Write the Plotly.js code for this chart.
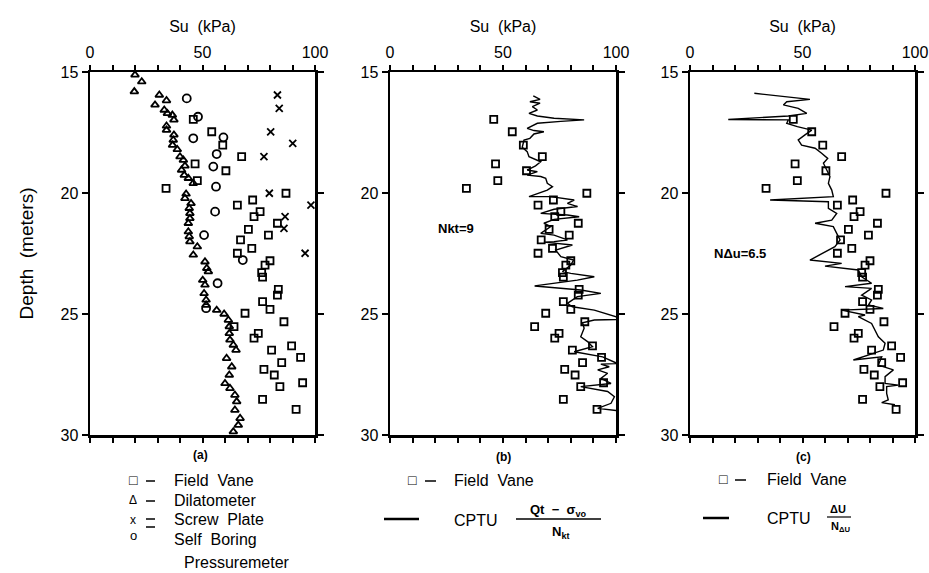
<!DOCTYPE html>
<html>
<head>
<meta charset="utf-8">
<script src="https://cdn.plot.ly/plotly-3.0.1.min.js"></script>
<style>html,body{margin:0;padding:0;background:#fff;}#chart{width:929px;height:573px;}</style>
</head>
<body>
<div id="chart"></div>
<script>
// ---- Data (Su in kPa, depth in metres) ----
const fieldVaneSu = [45.9,54.1,59.0,67.4,46.7,60.4,47.7,33.8,87.1,72.3,65.5,75.6,72.9,83.3,70.4,79.3,66.9,71.9,65.5,80.0,77.8,76.3,76.7,83.7,83.3,76.7,80.0,68.9,86.2,64.0,74.8,72.9,80.7,89.6,93.6,85.2,77.3,81.9,84.4,94.5,76.7,91.6];
const fieldVaneDepth = [16.96,17.47,18.02,18.50,18.80,19.08,19.49,19.81,20.01,20.29,20.50,20.77,20.98,21.25,21.50,21.74,21.94,22.29,22.49,22.80,22.98,23.29,23.48,23.98,24.22,24.49,24.81,24.97,25.32,25.52,25.80,26.00,26.49,26.32,26.79,27.01,27.29,27.52,28.00,27.84,28.53,28.94];

const dilatoSu = [20.0,23.0,19.7,30.8,34.0,28.9,33.0,34.4,36.6,37.3,34.0,34.0,37.3,37.0,36.7,38.8,40.0,41.5,42.2,40.7,41.9,43.7,45.9,42.7,42.2,44.9,44.1,44.4,44.4,43.7,43.7,44.1,44.4,47.7,45.9,51.1,51.9,52.6,50.1,51.1,50.7,51.6,51.6,56.3,59.6,61.5,61.9,61.9,62.2,63.7,64.9,60.7,63.0,61.9,60.0,62.2,64.4,65.2,64.4,66.7,65.9,63.7];
const dilatoDepth = [15.12,15.40,15.81,15.95,16.18,16.36,16.57,16.71,16.78,16.98,17.23,17.40,17.60,17.81,18.02,18.20,18.50,18.64,18.88,19.05,19.26,19.39,19.60,20.04,20.22,20.43,20.63,20.84,21.05,21.25,21.60,21.80,22.01,22.22,22.56,22.84,23.11,23.25,23.60,23.80,24.15,24.42,24.63,24.84,25.00,25.25,25.52,25.80,26.07,26.28,26.49,26.83,27.18,27.52,27.87,28.07,28.35,28.62,28.97,29.31,29.59,29.86];

const screwSu = [83.3,84.1,80.3,90.1,77.3,79.7,98.2,86.7,86.2,95.6];
const screwDepth = [15.95,16.50,17.47,17.95,18.50,20.01,20.50,20.98,21.46,22.49];

const sbpmSu = [43.0,48.0,45.9,59.3,56.3,54.8,56.0,55.6,50.7,67.9,56.7,51.6];
const sbpmDepth = [16.09,16.85,17.74,17.70,18.39,18.91,19.74,20.77,21.74,22.77,23.73,24.76];

const cptuNktSu = [63.4,66.4,61.9,66.4,63.0,65.2,61.5,65.2,72.6,85.9,75.6,65.2,60.7,63.7,68.1,63.7,61.9,59.3,58.5,60.7,61.5,65.2,66.7,64.4,60.7,65.2,60.7,66.7,68.9,69.6,71.9,69.6,65.2,61.5,71.1,81.5,78.5,83.0,72.6,66.7,78.5,83.7,72.6,68.1,71.1,66.7,72.6,78.5,72.6,68.1,80.7,73.3,75.6,81.2,80.0,76.3,80.0,90.4,82.9,64.0,84.4,93.3,82.9,80.0,78.5,80.7,90.4,103.7,90.4,85.2,85.9,84.4,87.4,89.6,81.5,94.1,100.7,93.3,97.0,91.9,96.3,93.3,97.8,84.4,96.3,99.3,97.8,91.9,105.0];
const cptuNktDepth = [15.99,16.13,16.23,16.29,16.43,16.57,16.71,16.82,16.91,16.98,17.04,17.12,17.33,17.42,17.47,17.56,17.74,17.81,18.11,18.29,18.50,18.64,18.71,18.88,19.05,19.12,19.26,19.32,19.39,19.60,19.74,19.88,20.01,20.15,20.15,20.29,20.43,20.56,20.67,20.84,20.91,20.98,21.09,21.25,21.39,21.67,21.74,21.94,22.01,22.03,22.15,22.36,22.63,22.77,22.98,23.25,23.32,23.46,23.60,23.84,24.01,24.15,24.28,24.49,24.56,24.70,24.84,25.22,25.25,25.36,25.59,25.94,26.14,26.35,26.56,26.77,27.05,27.07,27.18,27.31,27.45,27.66,27.87,28.00,28.20,28.42,28.69,28.90,29.04];

const cptuDuSu = [28.6,40.7,53.3,43.0,41.5,48.1,51.9,43.7,17.0,43.7,43.0,47.7,50.4,54.1,51.1,48.1,49.6,55.6,58.5,61.2,59.3,60.7,62.2,61.5,63.0,63.7,35.6,61.5,61.5,65.2,63.0,55.6,63.7,65.2,66.7,64.4,53.3,67.4,60.0,74.8,76.3,80.7,68.9,80.7,76.3,80.7,79.3,85.9,67.4,77.8,74.8,80.7,82.2,83.7,86.7,85.9,72.6,85.2,83.7,90.4,86.7,86.7,92.6,87.4,87.4,88.1,85.2,91.1];
const cptuDuDepth = [15.88,15.99,16.13,16.23,16.36,16.50,16.71,16.82,16.96,16.98,17.12,17.26,17.33,17.40,17.60,17.81,18.02,18.15,18.36,18.57,18.77,19.05,19.32,19.60,19.88,20.15,20.29,20.36,20.63,20.84,21.12,21.25,21.39,21.67,21.94,22.22,22.77,22.91,23.02,23.18,23.46,23.73,23.87,23.94,24.22,24.42,24.63,24.77,24.84,25.04,25.11,25.39,25.66,25.94,26.21,26.49,26.90,26.77,27.11,27.31,27.59,27.87,27.94,28.00,28.28,28.55,28.66,28.75];

const xTickVals = [0,10,20,30,40,50,60,70,80,90,100];
const xTickText = ['0','','','','','50','','','','','100'];
const yTickVals = [15,20,25,30];
const xTitle = 'Su  (kPa)';
const yTitle = 'Depth  (meters)';

// ---- Layout helpers (pixel -> paper) ----
const W = 929, H = 573;
const px = v => v / W;
const py = v => 1 - v / H;
const FONT = 'Liberation Sans, Arial, sans-serif';

function mk(xa, ya, sym, size) {
  return {xaxis: xa, yaxis: ya, mode: 'markers', type: 'scatter', hoverinfo: 'skip',
    marker: {symbol: sym, size: size, color: 'black', line: {color: 'black', width: 1.8}}};
}

const traces = [
  Object.assign(mk('x','y','square-open',7), {x: fieldVaneSu, y: fieldVaneDepth}),
  Object.assign(mk('x','y','triangle-up-open',7), {x: dilatoSu, y: dilatoDepth}),
  Object.assign(mk('x','y','x-thin-open',7), {x: screwSu, y: screwDepth}),
  Object.assign(mk('x','y','circle-open',8), {x: sbpmSu, y: sbpmDepth}),
  {x: cptuNktSu, y: cptuNktDepth, xaxis:'x2', yaxis:'y2', mode:'lines', line:{color:'black', width:1.4}, hoverinfo:'skip'},
  Object.assign(mk('x2','y2','square-open',7), {x: fieldVaneSu, y: fieldVaneDepth}),
  {x: cptuDuSu, y: cptuDuDepth, xaxis:'x3', yaxis:'y3', mode:'lines', line:{color:'black', width:1.4}, hoverinfo:'skip'},
  Object.assign(mk('x3','y3','square-open',7), {x: fieldVaneSu, y: fieldVaneDepth})
];

function xAx(l, r, anchor) {
  return {domain: [px(l), px(r)], anchor: anchor, side: 'top', range: [0, 100],
    tickmode: 'array', tickvals: xTickVals, ticktext: xTickText,
    ticks: 'outside', ticklen: 5, tickwidth: 2, tickcolor: 'black',
    showline: true, linewidth: 2.5, linecolor: 'black', mirror: 'ticks',
    showgrid: false, zeroline: false,
    tickfont: {family: FONT, size: 16, color: 'black'},
    title: {text: xTitle, font: {family: FONT, size: 16, color: 'black'}, standoff: 8}};
}
function yAx(anchor, withTitle) {
  const a = {domain: [py(435), py(72)], anchor: anchor, range: [30, 15],
    tickvals: yTickVals, ticks: 'outside', ticklen: 6, tickwidth: 2, tickcolor: 'black',
    showline: true, linewidth: 2.5, linecolor: 'black', mirror: 'ticks',
    showgrid: false, zeroline: false,
    tickfont: {family: FONT, size: 16, color: 'black'}};
  if (withTitle) a.title = {text: yTitle, font: {family: FONT, size: 19, color: 'black'}, standoff: 22};
  return a;
}

const ann = [];
const shapes = [];
function txt(x, y, t, size, xanchor, bold) {
  ann.push({xref:'paper', yref:'paper', x: px(x), y: py(y), text: bold ? '<b>'+t+'</b>' : t,
    showarrow:false, xanchor: xanchor || 'left', yanchor:'middle',
    font:{family: FONT, size: size, color:'black'}});
}
function hline(x0, x1, y, w) {
  shapes.push({type:'line', xref:'paper', yref:'paper', x0: px(x0), x1: px(x1), y0: py(y), y1: py(y), line:{color:'black', width: w}});
}

// panel labels
txt(200, 455, '(a)', 12, 'center', true);
txt(503, 457, '(b)', 12, 'center', true);
txt(803, 457, '(c)', 12, 'center', true);

// in-plot annotations
txt(456, 228, 'Nkt=9', 13, 'center', true);
txt(740, 253, 'NΔu=6.5', 13, 'center', true);

// legend (a)
txt(133, 480, '□', 14, 'center');
txt(133, 500, 'Δ', 12, 'center');
txt(133, 520, 'x', 12, 'center');
txt(133, 535, 'o', 13, 'center');
hline(146, 155, 481, 1.5);
hline(146, 155, 501, 1.5);
hline(146, 155, 519, 1.5);
hline(146, 155, 527, 1.5);
txt(172, 480, 'Field  Vane', 16);
txt(172, 500, 'Dilatometer', 16);
txt(172, 519, 'Screw  Plate', 16);
txt(172, 539, 'Self  Boring', 16);
txt(182, 562, 'Pressuremeter', 16);

// legend (b)
txt(412, 480, '□', 14, 'center');
hline(425, 436, 481, 1.5);
txt(452, 480, 'Field  Vane', 16);
hline(384, 419, 519, 2.5);
txt(452, 520, 'CPTU', 16);
txt(558, 510, '<b>Qt  −  σ<sub>vo</sub></b>', 13, 'center');
hline(516, 601, 519, 1.3);
txt(560, 532, '<b>N<sub>kt</sub></b>', 13, 'center');

// legend (c)
txt(723, 479, '□', 14, 'center');
hline(735, 746, 480, 1.5);
txt(765, 479, 'Field  Vane', 16);
hline(703, 729, 518, 2.5);
txt(765, 518, 'CPTU', 16);
txt(838, 509, '<b>ΔU</b>', 11, 'center');
hline(827, 851, 517, 1.2);
txt(840, 527, '<b>N<sub>ΔU</sub></b>', 11, 'center');

const layout = {
  width: W, height: H, margin: {l:0, r:0, t:0, b:0},
  paper_bgcolor: 'white', plot_bgcolor: 'white', showlegend: false,
  font: {family: FONT, color: 'black'},
  xaxis: xAx(90, 315, 'y'), yaxis: yAx('x', true),
  xaxis2: xAx(390, 616, 'y2'), yaxis2: yAx('x2', false),
  xaxis3: xAx(690, 915, 'y3'), yaxis3: yAx('x3', false),
  annotations: ann, shapes: shapes
};

Plotly.newPlot('chart', traces, layout, {staticPlot: true});
</script>
</body>
</html>
